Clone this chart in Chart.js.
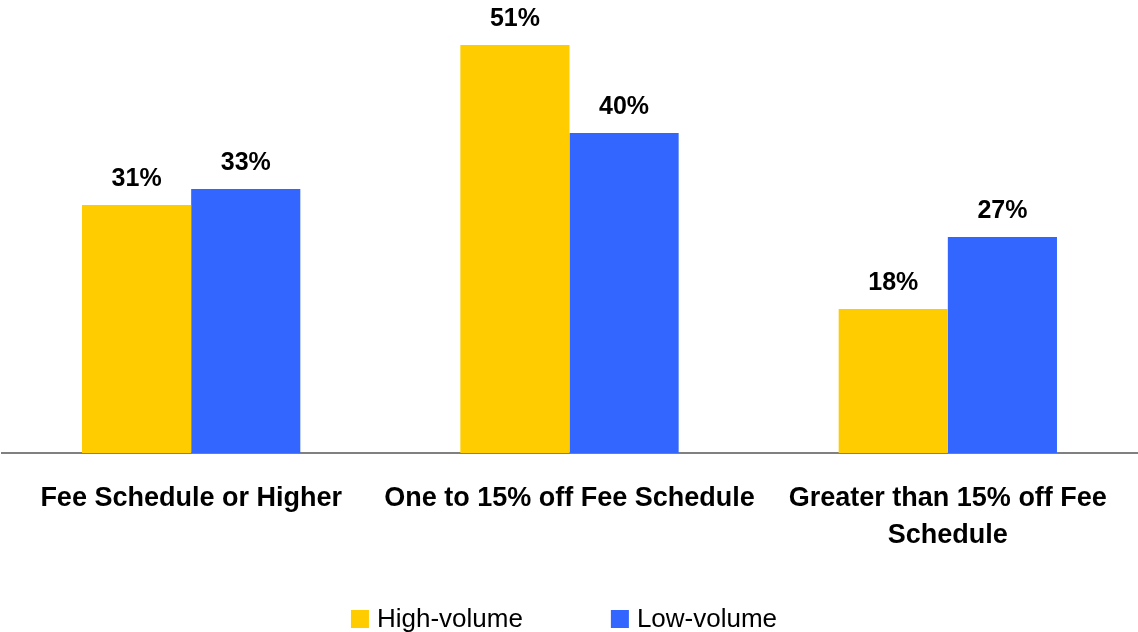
<!DOCTYPE html>
<html>
<head>
<meta charset="utf-8">
<script src="https://cdn.jsdelivr.net/npm/chart.js@4"></script>
<style>
  html, body { margin: 0; padding: 0; background: #fff; }
  #wrap { width: 1138px; height: 632px; }
</style>
</head>
<body>
<div id="wrap"><canvas id="myChart" width="1138" height="632"></canvas></div>
<script>
// data
let categories = [
  'Fee Schedule or Higher',
  'One to 15% off Fee Schedule',
  ['Greater than 15% off Fee', 'Schedule']
]
let highVolume = [31, 51, 18]
let lowVolume = [33, 40, 27]

let fontFam = '"Liberation Sans", Arial, sans-serif'

// draws the "31%" style labels above each bar
const valueLabels = {
  id: 'valueLabels',
  afterDatasetsDraw(chart) {
    const ctx = chart.ctx
    ctx.save()
    ctx.font = 'bold 25px ' + fontFam
    ctx.fillStyle = '#000'
    ctx.textAlign = 'center'
    ctx.textBaseline = 'alphabetic'
    chart.data.datasets.forEach((ds, i) => {
      chart.getDatasetMeta(i).data.forEach((bar, j) => {
        ctx.fillText(ds.data[j] + '%', bar.x, bar.y - 19)
      })
    })
    ctx.restore()
  }
}

// legend at the bottom, built from the datasets (built-in one can't space items apart without huge vertical padding)
const bottomLegend = {
  id: 'bottomLegend',
  afterDraw(chart) {
    const ctx = chart.ctx
    const box = 18, gapText = 8, gapItem = 88
    const cy = 619
    ctx.save()
    ctx.font = '26px ' + fontFam
    ctx.textBaseline = 'middle'
    ctx.textAlign = 'left'
    const items = chart.data.datasets.map(ds => ({
      text: ds.label, color: ds.backgroundColor, w: ctx.measureText(ds.label).width
    }))
    let total = 0
    items.forEach((it, i) => { total += box + gapText + it.w + (i ? gapItem : 0) })
    let x = (chart.width - total) / 2 - 5
    items.forEach(it => {
      ctx.fillStyle = it.color
      ctx.fillRect(x, cy - box / 2, box, box)
      ctx.fillStyle = '#000'
      ctx.fillText(it.text, x + box + gapText, cy + 1)
      x += box + gapText + it.w + gapItem
    })
    ctx.restore()
  }
}

var ctx = document.getElementById('myChart');
var myChart = new Chart(ctx, {
  type: 'bar',
  data: {
    labels: categories,
    datasets: [{
      label: 'High-volume',
      data: highVolume,
      backgroundColor: '#FFCC00',
      borderWidth: 0
    },
    {
      label: 'Low-volume',
      data: lowVolume,
      backgroundColor: '#3366FF',
      borderWidth: 0
    }]
  },
  options: {
    responsive: false,
    animation: false,
    layout: {
      padding: { left: 2, right: 1, top: 13, bottom: 51 }
    },
    datasets: {
      bar: {
        categoryPercentage: 0.577,
        barPercentage: 1
      }
    },
    scales: {
      y: {
        display: false,
        min: 0,
        max: 55
      },
      x: {
        grid: { display: false, drawTicks: false },
        border: { display: true, color: '#808080', width: 2 },
        ticks: {
          color: '#000',
          padding: 27,
          maxRotation: 0,
          autoSkip: false,
          font: { family: fontFam, size: 27, weight: 'bold', lineHeight: 1.37 }
        }
      }
    },
    plugins: {
      tooltip: { enabled: false },
      legend: { display: false }
    }
  },
  plugins: [valueLabels, bottomLegend]
});
</script>
</body>
</html>
